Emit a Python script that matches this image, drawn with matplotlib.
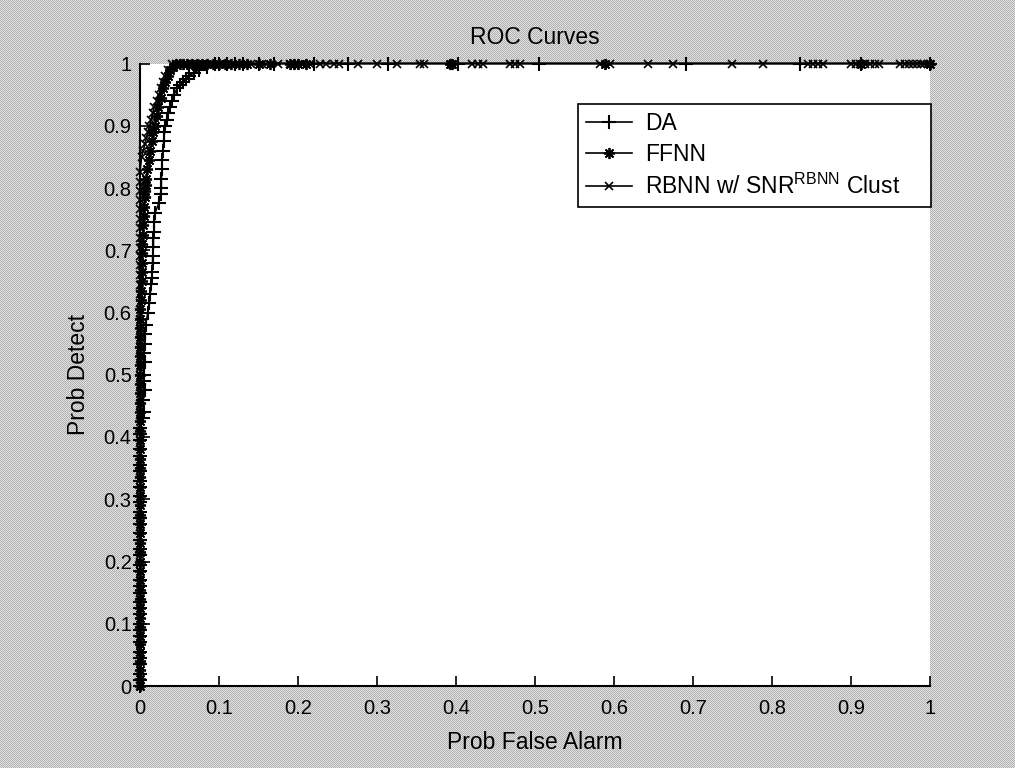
import numpy as np
import matplotlib
matplotlib.use("Agg")
import matplotlib.pyplot as plt

plt.rcParams['font.family'] = ['Liberation Sans', 'DejaVu Sans']
plt.rcParams['mathtext.fontset'] = 'custom'
plt.rcParams['mathtext.rm'] = 'Liberation Sans'

title = "ROC Curves"
xlabel = "Prob False Alarm"
ylabel = "Prob Detect"
tick_vals = [0, 0.1, 0.2, 0.3, 0.4, 0.5, 0.6, 0.7, 0.8, 0.9, 1]
tick_labels = ["0", "0.1", "0.2", "0.3", "0.4", "0.5", "0.6", "0.7", "0.8", "0.9", "1"]
legend_labels = ["DA", "FFNN", r"RBNN w/ SNR$^{\mathrm{RBNN}}$ Clust"]

# ---- DA (+) ----
da_pfa = [0.000, 0.000, 0.000, 0.000, 0.000, 0.000, 0.000, 0.000, 0.000, 0.000,
          0.000, 0.000, 0.000, 0.000, 0.000, 0.000, 0.000, 0.000, 0.000, 0.000,
          0.000, 0.000, 0.000, 0.000, 0.000, 0.000, 0.000, 0.000, 0.000, 0.000,
          0.000, 0.000, 0.000, 0.000, 0.000, 0.000,
          0.004, 0.005, 0.004, 0.006, 0.005, 0.005, 0.006, 0.005, 0.006, 0.006, 0.007,
          0.010, 0.012, 0.013, 0.014, 0.015, 0.015, 0.016, 0.016, 0.017, 0.017, 0.018, 0.018, 0.019,
          0.024, 0.026, 0.027, 0.027, 0.028, 0.028, 0.029, 0.030, 0.031,
          0.032, 0.034, 0.036, 0.038, 0.040, 0.043, 0.047, 0.050, 0.054, 0.058, 0.062, 0.068, 0.075, 0.085, 0.095,
          0.100, 0.110, 0.120, 0.130, 0.150, 0.170, 0.220, 0.263, 0.314, 0.402, 0.505, 0.691, 0.835, 0.913, 1.000]
da_pd = [0.000, 0.010, 0.020, 0.035, 0.045, 0.055, 0.070, 0.080, 0.090, 0.100,
         0.115, 0.125, 0.135, 0.150, 0.160, 0.170, 0.185, 0.195, 0.210, 0.220,
         0.235, 0.245, 0.260, 0.270, 0.280, 0.295, 0.305, 0.320, 0.330, 0.345,
         0.355, 0.370, 0.380, 0.395, 0.405, 0.415,
         0.430, 0.440, 0.460, 0.475, 0.490, 0.500, 0.520, 0.535, 0.550, 0.565, 0.580,
         0.600, 0.615, 0.630, 0.645, 0.655, 0.665, 0.680, 0.690, 0.705, 0.720, 0.730, 0.745, 0.760,
         0.776, 0.790, 0.800, 0.815, 0.830, 0.845, 0.860, 0.875, 0.890,
         0.900, 0.910, 0.920, 0.930, 0.940, 0.950, 0.960, 0.965, 0.970, 0.975, 0.980, 0.985, 0.990, 0.995, 1.000,
         1.000, 1.000, 1.000, 1.000, 1.000, 1.000, 1.000, 1.000, 1.000, 1.000, 1.000, 1.000, 1.000, 1.000, 1.000]

# ---- FFNN (*) ----
ff_pfa = [0.000, 0.000, 0.000, 0.000, 0.000, 0.000, 0.000, 0.000, 0.000, 0.000,
          0.000, 0.000, 0.000, 0.000, 0.000, 0.000, 0.000, 0.000, 0.000, 0.000,
          0.000, 0.000, 0.000, 0.000, 0.000, 0.000, 0.000, 0.000, 0.000, 0.000,
          0.000, 0.000, 0.000, 0.000, 0.000, 0.000, 0.000, 0.000, 0.000, 0.000,
          0.000, 0.000,
          0.001, 0.001, 0.002, 0.002, 0.003, 0.003, 0.003, 0.004, 0.004, 0.005, 0.005, 0.006, 0.006, 0.007,
          0.008, 0.009, 0.011, 0.013, 0.015, 0.017, 0.019, 0.021, 0.023, 0.026, 0.029, 0.032, 0.035, 0.038, 0.042, 0.046,
          0.050, 0.055, 0.060, 0.066, 0.072, 0.078, 0.085, 0.092, 0.100, 0.108, 0.115, 0.125, 0.135, 0.150,
          0.165, 0.190, 0.195, 0.200, 0.210, 0.392, 0.395, 0.589, 0.913, 1.000]
ff_pd = [0.000, 0.012, 0.025, 0.040, 0.055, 0.068, 0.080, 0.095, 0.110, 0.125,
         0.140, 0.155, 0.170, 0.185, 0.200, 0.215, 0.230, 0.245, 0.260, 0.275,
         0.290, 0.305, 0.320, 0.335, 0.350, 0.365, 0.380, 0.395, 0.410, 0.425,
         0.440, 0.455, 0.470, 0.485, 0.500, 0.515, 0.530, 0.545, 0.560, 0.575,
         0.590, 0.605,
         0.620, 0.635, 0.650, 0.665, 0.680, 0.695, 0.710, 0.725, 0.740, 0.755, 0.770, 0.785, 0.795, 0.805,
         0.815, 0.830, 0.845, 0.860, 0.875, 0.890, 0.900, 0.915, 0.930, 0.945, 0.960, 0.970, 0.980, 0.990, 0.995, 1.000,
         1.000, 1.000, 1.000, 1.000, 1.000, 1.000, 1.000, 1.000, 1.000, 1.000, 1.000, 1.000, 1.000, 1.000,
         1.000, 1.000, 1.000, 1.000, 1.000, 1.000, 1.000, 1.000, 1.000, 1.000]

# ---- RBNN (x) ----
rb_pfa = [0.000, 0.000, 0.000, 0.000, 0.000, 0.000, 0.000, 0.000, 0.000, 0.000,
          0.000, 0.000, 0.000, 0.000, 0.000, 0.000, 0.000, 0.000, 0.000, 0.000,
          0.000, 0.000, 0.000, 0.000, 0.000, 0.000, 0.000, 0.000, 0.000, 0.000,
          0.000, 0.000, 0.000, 0.000, 0.000, 0.000, 0.000, 0.000, 0.000, 0.000,
          0.000, 0.000, 0.000, 0.000, 0.000, 0.000, 0.000, 0.000, 0.000, 0.000,
          0.000, 0.000, 0.000, 0.000, 0.000, 0.000,
          0.002, 0.004, 0.006, 0.008, 0.010, 0.012, 0.014, 0.016, 0.018, 0.021, 0.024, 0.026, 0.029, 0.032, 0.035, 0.040,
          0.045, 0.050, 0.060, 0.070, 0.080, 0.090, 0.110, 0.125, 0.140, 0.155, 0.175, 0.190, 0.205, 0.215,
          0.228, 0.236, 0.245, 0.252, 0.276, 0.300, 0.325, 0.354, 0.359, 0.420, 0.428, 0.434, 0.468, 0.475,
          0.481, 0.582, 0.595, 0.643, 0.675, 0.749, 0.789, 0.846, 0.852, 0.858, 0.864, 0.900, 0.906, 0.912,
          0.918, 0.924, 0.930, 0.936, 0.962, 0.968, 0.973, 0.978, 0.983, 0.988, 0.993, 0.997, 1.000]
rb_pd = [0.000, 0.014, 0.030, 0.044, 0.060, 0.076, 0.090, 0.104, 0.121, 0.135,
         0.150, 0.166, 0.180, 0.196, 0.210, 0.224, 0.240, 0.256, 0.270, 0.284,
         0.300, 0.315, 0.331, 0.345, 0.360, 0.374, 0.390, 0.406, 0.420, 0.436,
         0.450, 0.464, 0.480, 0.495, 0.511, 0.525, 0.540, 0.556, 0.570, 0.584,
         0.600, 0.616, 0.630, 0.644, 0.660, 0.676, 0.690, 0.704, 0.720, 0.735,
         0.750, 0.766, 0.780, 0.795, 0.810, 0.825,
         0.850, 0.860, 0.870, 0.880, 0.890, 0.900, 0.910, 0.920, 0.930, 0.940, 0.950, 0.960, 0.970, 0.980, 0.990, 1.000,
         1.000, 1.000, 1.000, 1.000, 1.000, 1.000, 1.000, 1.000, 1.000, 1.000, 1.000, 1.000, 1.000, 1.000,
         1.000, 1.000, 1.000, 1.000, 1.000, 1.000, 1.000, 1.000, 1.000, 1.000, 1.000, 1.000, 1.000, 1.000,
         1.000, 1.000, 1.000, 1.000, 1.000, 1.000, 1.000, 1.000, 1.000, 1.000, 1.000, 1.000, 1.000, 1.000,
         1.000, 1.000, 1.000, 1.000, 1.000, 1.000, 1.000, 1.000, 1.000, 1.000, 1.000, 1.000, 1.000]

W, H, DPI = 1015, 768, 100
fig = plt.figure(figsize=(W / DPI, H / DPI), dpi=DPI)
fig.patch.set_facecolor('#c6c6c6')

# dithered grey background (MATLAB screenshot look)
yy, xx = np.indices((H, W))
pat = np.where((xx + yy) % 2 == 0, 0.70, 0.88)
bg = np.dstack([pat, pat, pat])
fig.figimage(bg, xo=0, yo=0, zorder=-10)

ax = fig.add_axes([140 / W, 1 - 686 / H, 790 / W, 622.5 / H])
ax.set_facecolor('white')

fs_tick = 14.5
fs = 16.5
asterisk = (8, 2, 0)
ax.plot(da_pfa, da_pd, color='black', lw=1.2, marker='+', ms=10, mew=1.5, clip_on=False, label=legend_labels[0])
ax.plot(ff_pfa, ff_pd, color='black', lw=1.2, marker=asterisk, ms=8, mew=1.3, clip_on=False, label=legend_labels[1])
ax.plot(rb_pfa, rb_pd, color='black', lw=1.2, marker='x', ms=5.5, mew=1.2, clip_on=False, label=legend_labels[2])

ax.set_xlim(0, 1)
ax.set_ylim(0, 1)
ax.set_xticks(tick_vals)
ax.set_xticklabels(tick_labels)
ax.set_yticks(tick_vals)
ax.set_yticklabels(tick_labels)
ax.tick_params(direction='in', length=7, width=1.2, labelsize=fs_tick, colors='black')
ax.tick_params(axis='x', pad=9)
ax.tick_params(axis='y', pad=6)
ax.spines['top'].set_visible(False)
ax.spines['right'].set_visible(False)
for s in ['left', 'bottom']:
    ax.spines[s].set_linewidth(1.5)
    ax.spines[s].set_color('black')

ax.set_title(title, fontsize=fs, pad=14)
ax.set_xlabel(xlabel, fontsize=fs, labelpad=10)
ax.set_ylabel(ylabel, fontsize=fs, labelpad=10)

leg = ax.legend(loc='upper left', bbox_to_anchor=(0.554, 0.935, 0.447, 0.0), mode='expand',
                fontsize=fs, frameon=True, fancybox=False, shadow=False, framealpha=1,
                edgecolor='black', handlelength=2.0, handletextpad=0.6, labelspacing=0.35,
                borderpad=0.35, borderaxespad=0.0)
leg.get_frame().set_linewidth(1.2)

fig.savefig('out.png', dpi=DPI, facecolor=fig.get_facecolor())
